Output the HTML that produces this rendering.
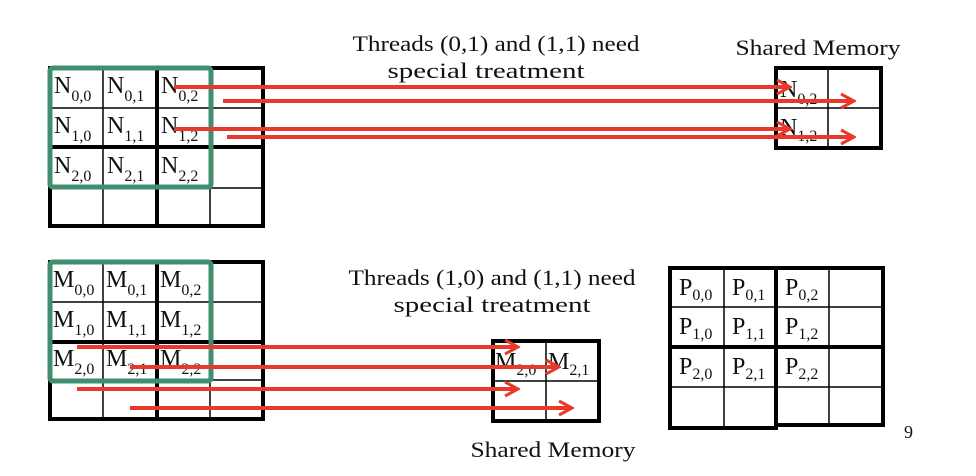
<!DOCTYPE html>
<html><head><meta charset="utf-8"><style>
html,body{margin:0;padding:0;background:#fff;}
svg{display:block;}
text{font-family:"Liberation Serif",serif;fill:#111;}
.l{font-size:24px;}
.s{font-size:16px;}
</style></head><body>
<svg width="976" height="476" viewBox="0 0 976 476" xmlns="http://www.w3.org/2000/svg">
<defs>
<marker id="ah" markerWidth="16" markerHeight="18" refX="13" refY="8" orient="auto" markerUnits="userSpaceOnUse" viewBox="0 0 16 16">
<polyline points="1,1 14,8 1,15" fill="none" stroke="#e8392a" stroke-width="3"/>
</marker>
</defs>

<!-- titles -->
<text x="496" y="51" text-anchor="middle" style="font-size:22px" textLength="287" lengthAdjust="spacingAndGlyphs">Threads (0,1) and (1,1) need</text>
<text x="486" y="78" text-anchor="middle" style="font-size:22px" textLength="197" lengthAdjust="spacingAndGlyphs">special treatment</text>
<text x="818" y="55" text-anchor="middle" style="font-size:22px" textLength="165" lengthAdjust="spacingAndGlyphs">Shared Memory</text>
<text x="492" y="285" text-anchor="middle" style="font-size:22px" textLength="287" lengthAdjust="spacingAndGlyphs">Threads (1,0) and (1,1) need</text>
<text x="492" y="312" text-anchor="middle" style="font-size:22px" textLength="197" lengthAdjust="spacingAndGlyphs">special treatment</text>
<text x="553" y="457" text-anchor="middle" style="font-size:22px" textLength="165" lengthAdjust="spacingAndGlyphs">Shared Memory</text>
<text x="904" y="438" style="font-size:18px">9</text>

<!-- N grid -->
<g stroke="#000" fill="none">
<rect x="50" y="68" width="213" height="158" stroke-width="4"/>
<line x1="103" y1="68" x2="103" y2="226" stroke-width="1.5"/>
<line x1="210" y1="68" x2="210" y2="226" stroke-width="1.5"/>
<line x1="157" y1="68" x2="157" y2="226" stroke-width="4"/>
<line x1="50" y1="108" x2="263" y2="108" stroke-width="1.5"/>
<line x1="50" y1="188" x2="263" y2="188" stroke-width="1.5"/>
<line x1="50" y1="147" x2="263" y2="147" stroke-width="4"/>
</g>
<g>
<text x="54" y="93" class="l">N<tspan class="s" dy="8">0,0</tspan></text>
<text x="107" y="93" class="l">N<tspan class="s" dy="8">0,1</tspan></text>
<text x="161" y="93" class="l">N<tspan class="s" dy="8">0,2</tspan></text>
<text x="54" y="133" class="l">N<tspan class="s" dy="8">1,0</tspan></text>
<text x="107" y="133" class="l">N<tspan class="s" dy="8">1,1</tspan></text>
<text x="161" y="133" class="l">N<tspan class="s" dy="8">1,2</tspan></text>
<text x="54" y="173" class="l">N<tspan class="s" dy="8">2,0</tspan></text>
<text x="107" y="173" class="l">N<tspan class="s" dy="8">2,1</tspan></text>
<text x="161" y="173" class="l">N<tspan class="s" dy="8">2,2</tspan></text>
</g>
<rect x="50" y="68" width="161" height="119" rx="3" fill="none" stroke="#3f8f6e" stroke-width="5"/>

<!-- N shared -->
<g stroke="#000" fill="none">
<rect x="776" y="68" width="105" height="80" stroke-width="4"/>
<line x1="828" y1="68" x2="828" y2="148" stroke-width="1.5"/>
<line x1="776" y1="108" x2="881" y2="108" stroke-width="1.5"/>
</g>
<text x="780" y="97" class="l">N<tspan class="s" dy="7">0,2</tspan></text>
<text x="780" y="135" class="l">N<tspan class="s" dy="6">1,2</tspan></text>

<!-- N arrows -->
<g stroke="#e8392a" stroke-width="4" marker-end="url(#ah)">
<line x1="174" y1="87" x2="789" y2="87"/>
<line x1="223" y1="101" x2="853" y2="101"/>
<line x1="174" y1="129" x2="789" y2="129"/>
<line x1="227" y1="137" x2="853" y2="137"/>
</g>

<!-- M grid -->
<g stroke="#000" fill="none">
<rect x="50" y="262" width="213" height="157" stroke-width="4"/>
<line x1="103" y1="262" x2="103" y2="419" stroke-width="1.5"/>
<line x1="210" y1="262" x2="210" y2="419" stroke-width="1.5"/>
<line x1="157" y1="262" x2="157" y2="419" stroke-width="4"/>
<line x1="50" y1="302" x2="263" y2="302" stroke-width="1.5"/>
<line x1="50" y1="380" x2="263" y2="380" stroke-width="1.5"/>
<line x1="50" y1="342" x2="263" y2="342" stroke-width="4"/>
</g>
<g>
<text x="53" y="287" class="l">M<tspan class="s" dy="8">0,0</tspan></text>
<text x="106" y="287" class="l">M<tspan class="s" dy="8">0,1</tspan></text>
<text x="160" y="287" class="l">M<tspan class="s" dy="8">0,2</tspan></text>
<text x="53" y="327" class="l">M<tspan class="s" dy="8">1,0</tspan></text>
<text x="106" y="327" class="l">M<tspan class="s" dy="8">1,1</tspan></text>
<text x="160" y="327" class="l">M<tspan class="s" dy="8">1,2</tspan></text>
<text x="53" y="366" class="l">M<tspan class="s" dy="8">2,0</tspan></text>
<text x="106" y="366" class="l">M<tspan class="s" dy="8">2,1</tspan></text>
<text x="160" y="366" class="l">M<tspan class="s" dy="8">2,2</tspan></text>
</g>
<rect x="50" y="262" width="161" height="119" rx="3" fill="none" stroke="#3f8f6e" stroke-width="5"/>

<!-- M shared -->
<g stroke="#000" fill="none">
<rect x="493" y="341" width="106" height="80" stroke-width="4"/>
<line x1="546" y1="341" x2="546" y2="421" stroke-width="1.5"/>
<line x1="493" y1="381" x2="599" y2="381" stroke-width="1.5"/>
</g>
<text x="495" y="369" class="l">M<tspan class="s" dy="6">2,0</tspan></text>
<text x="548" y="369" class="l">M<tspan class="s" dy="6">2,1</tspan></text>

<!-- M arrows -->
<g stroke="#e8392a" stroke-width="4" marker-end="url(#ah)">
<line x1="77" y1="347" x2="517" y2="347"/>
<line x1="130" y1="367" x2="558" y2="367"/>
<line x1="77" y1="389" x2="517" y2="389"/>
<line x1="130" y1="408" x2="571" y2="408"/>
</g>

<!-- P grid -->
<g stroke="#000" fill="none">
<rect x="670" y="268" width="106" height="160" stroke-width="4"/>
<rect x="776" y="268" width="107" height="157" stroke-width="4"/>
<line x1="724" y1="268" x2="724" y2="428" stroke-width="1.5"/>
<line x1="829" y1="268" x2="829" y2="425" stroke-width="1.5"/>
<line x1="670" y1="307" x2="883" y2="307" stroke-width="1.5"/>
<line x1="670" y1="387" x2="883" y2="387" stroke-width="1.5"/>
<line x1="670" y1="347" x2="883" y2="347" stroke-width="4"/>
</g>
<g>
<text x="679" y="295" class="l">P<tspan class="s" dy="5">0,0</tspan></text>
<text x="732" y="295" class="l">P<tspan class="s" dy="5">0,1</tspan></text>
<text x="785" y="295" class="l">P<tspan class="s" dy="5">0,2</tspan></text>
<text x="679" y="334" class="l">P<tspan class="s" dy="5">1,0</tspan></text>
<text x="732" y="334" class="l">P<tspan class="s" dy="5">1,1</tspan></text>
<text x="785" y="334" class="l">P<tspan class="s" dy="5">1,2</tspan></text>
<text x="679" y="374" class="l">P<tspan class="s" dy="5">2,0</tspan></text>
<text x="732" y="374" class="l">P<tspan class="s" dy="5">2,1</tspan></text>
<text x="785" y="374" class="l">P<tspan class="s" dy="5">2,2</tspan></text>
</g>
</svg>
</body></html>
